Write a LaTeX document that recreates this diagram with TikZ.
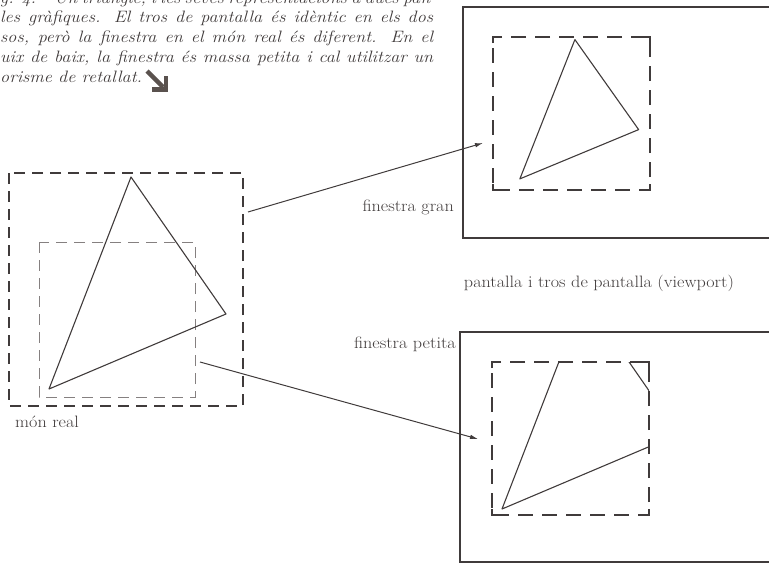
\documentclass[tikz,border=0pt]{standalone}
\usepackage{fontspec}
\usetikzlibrary{arrows.meta}
\definecolor{ink}{HTML}{403B3B}
\definecolor{softink}{HTML}{858080}
\definecolor{markink}{HTML}{5A524E}
\newcommand{\widetext}[1]{\scalebox{1.1}[1]{#1}}

\begin{document}
\begin{tikzpicture}[x=1pt,y=-1pt,
    screen/.style={draw=ink,line width=1.3pt},
    wnd/.style={draw=ink,line width=1.2pt,dash pattern=on 11pt off 7pt},
    port/.style={draw=ink,line width=1.2pt,dash pattern=on 15pt off 9pt,dash phase=13pt},
    corner/.style={draw=ink,line width=2.4pt},
    tri/.style={draw=ink,line width=1.1pt,line join=round},
    link/.style={draw=ink,line width=1pt,-{Latex[length=8pt,width=4.5pt]}},
    lbl/.style={text=ink,inner sep=0pt,font=\fontsize{16.5}{19}\selectfont},
    captext/.style={lbl,anchor=base west,font=\fontsize{16.5}{19}\selectfont\itshape}]
  \useasboundingbox (0,0) rectangle (769,565);
  % caption (cut off by the page)
  \node[captext] (cap0) at (0,3) {\widetext{\makebox[391pt][s]{g. 4.\quad Un triangle, i les seves representacions a dues pan}}};
  \node[captext] (cap1) at (0,22.5) {\widetext{\makebox[393.6pt][s]{les gràfiques. El tros de pantalla és idèntic en els dos}}};
  \node[captext] (cap2) at (0,42) {\widetext{\makebox[393.6pt][s]{sos, però la finestra en el món real és diferent. En el}}};
  \node[captext] (cap3) at (0,62) {\widetext{\makebox[393.6pt][s]{uix de baix, la finestra és massa petita i cal utilitzar un}}};
  \node[captext] (cap4) at (0,82) {\widetext{\makebox[129pt][s]{orisme de retallat.}}};
  \draw[markink,line width=4.5pt] (147,71) -- (163,87);
  \draw[markink,line width=4.5pt] (166,76) -- (166,89.5) -- (152,89.5);
  % real world
  \draw[wnd] (9,173) rectangle (243,406);
  \draw[wnd,draw=softink,line width=1pt] (39,242) rectangle (195,397);
  \draw[tri] (131,177) -- (226,314) -- (49,389) -- cycle;
  \node[lbl,anchor=base west] (mon) at (15,427) {\widetext{món real}};
  % screens
  \draw[screen] (463,7) rectangle (780,238);
  \draw[screen] (460,332) rectangle (780,562);
  \node[lbl,anchor=base] (pantalla) at (599,287) {\widetext{pantalla i tros de pantalla (viewport)}};
  \node[lbl,anchor=base east] (gran) at (454,211) {\widetext{finestra gran}};
  \node[lbl,anchor=base east] (petita) at (456,348) {\widetext{finestra petita}};
  % viewports
  \foreach \vx/\vy in {493/37,492/362}{
    \draw[port] (\vx,\vy) rectangle ({\vx+157},{\vy+153});
    \foreach \cx/\cy/\sx/\sy in {0/0/1/1,157/0/-1/1,157/153/-1/-1,0/153/1/-1}
      \draw[corner] ({\vx+\cx},{\vy+\cy+6*\sy}) -- ({\vx+\cx},{\vy+\cy}) -- ({\vx+\cx+6*\sx},{\vy+\cy});
  }
  % big window mapped
  \begin{scope}[shift={(487,-76.7)},xscale=0.671,yscale=0.657]
    \draw[tri] (131,177) -- (226,314) -- (49,389) -- cycle;
  \end{scope}
  % small window mapped and clipped
  \begin{scope}
    \clip (492,362) rectangle (649,515);
    \begin{scope}[shift={(453,120)}]
      \draw[tri] (131,177) -- (226,314) -- (49,389) -- cycle;
    \end{scope}
  \end{scope}
  % links
  \coordinate (gran-out) at (248,212);
  \coordinate (gran-in) at (483,143);
  \coordinate (petita-out) at (200,362);
  \coordinate (petita-in) at (478,439);
  \draw[link] (gran-out) -- (gran-in);
  \draw[link] (petita-out) -- (petita-in);
\end{tikzpicture}
\end{document}
